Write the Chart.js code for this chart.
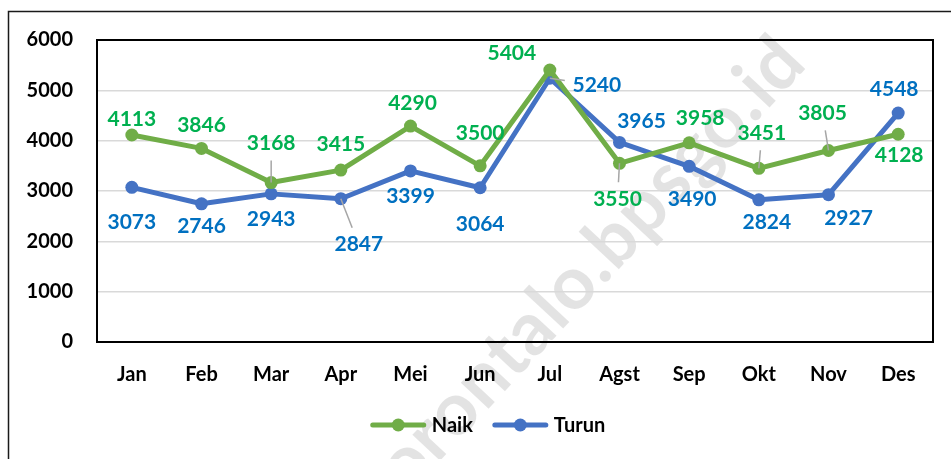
<!DOCTYPE html>
<html><head><meta charset="utf-8">
<script src="https://cdn.jsdelivr.net/npm/chart.js@4.4.1/dist/chart.umd.min.js"></script>
<style>html,body{margin:0;padding:0;background:#fff;} canvas{display:block;}</style>
</head><body>
<canvas id="c" width="951" height="459"></canvas>
<script>
const categories = ['Jan','Feb','Mar','Apr','Mei','Jun','Jul','Agst','Sep','Okt','Nov','Des'];
const naik = [4113,3846,3168,3415,4290,3500,5404,3550,3958,3451,3805,4128];
const turun = [3073,2746,2943,2847,3399,3064,5240,3965,3490,2824,2927,4548];
const yTicks = [0,1000,2000,3000,4000,5000,6000];
const seriesNames = ['Naik','Turun'];
const watermarkHead = 'gorontalo';
const watermarkTail = '.bpsgo.id';

// label placement (pixel offsets from each point) and leader-line flags
const naikLabelOffsets = [[0,-16],[0,-23],[0,-39],[0,-26],[2,-23],[0,-33],[-38,-17],[-2,36],[11,-25],[3,-35],[-6,-37],[1,21]];
const naikLeaders = [0,0,1,0,0,0,0,1,0,1,1,0];
const turunLabelOffsets = [[0,35],[0,22],[0,25],[18,46],[0,25],[0,36],[47,7],[22,-21],[3,33],[8,22],[20,24],[-4,-24]];
const turunLeaders = [0,0,0,1,0,0,1,0,0,0,0,0];

const FONT = 'Lato, "Open Sans", sans-serif';
const lineColors = ['#70AD47', '#4472C4'];
const labelColors = ['#00B050', '#0070C0'];

const watermarkPlugin = {
  id: 'watermark',
  beforeDraw(chart) {
    const ctx = chart.ctx;
    ctx.save();
    ctx.fillStyle = '#fff';
    ctx.fillRect(0, 0, chart.width, chart.height);
    ctx.translate(603, 286);
    ctx.rotate(-47 * Math.PI / 180);
    ctx.font = 'bold 74px ' + FONT;
    try { ctx.letterSpacing = '1px'; } catch (e) {}
    ctx.fillStyle = 'rgba(0,0,0,0.11)';
    ctx.textAlign = 'left';
    ctx.textBaseline = 'alphabetic';
    const hw = ctx.measureText(watermarkHead).width;
    ctx.fillText(watermarkHead, -hw, 0);
    ctx.fillText(watermarkTail, 0, 0);
    ctx.restore();
  }
};

const framePlugin = {
  id: 'frame',
  afterDraw(chart) {
    const ctx = chart.ctx, a = chart.chartArea;
    ctx.save();
    ctx.strokeStyle = '#1a1a1a';
    ctx.lineWidth = 1.5;
    ctx.strokeRect(8.5, 11.5, chart.width + 20, chart.height + 20);
    ctx.strokeStyle = '#000';
    ctx.lineWidth = 2;
    ctx.strokeRect(a.left, a.top, a.right - a.left, a.bottom - a.top);
    ctx.restore();
  }
};

const labelPlugin = {
  id: 'valueLabels',
  afterDatasetsDraw(chart) {
    const ctx = chart.ctx;
    const offsets = [naikLabelOffsets, turunLabelOffsets];
    const leaders = [naikLeaders, turunLeaders];
    ctx.save();
    ctx.font = 'bold 21px ' + FONT;
    ctx.textAlign = 'center';
    ctx.textBaseline = 'middle';
    chart.data.datasets.forEach((ds, di) => {
      const meta = chart.getDatasetMeta(di);
      meta.data.forEach((pt, i) => {
        const px = pt.x, py = pt.y;
        const lx = px + offsets[di][i][0], ly = py + offsets[di][i][1];
        if (leaders[di][i]) {
          const dx = lx - px, dy = ly - py;
          let ex, ey;
          if (Math.abs(dx) > Math.abs(dy)) { ex = lx - Math.sign(dx) * 32; ey = py + dy * (ex - px) / dx; }
          else { ey = ly - Math.sign(dy) * 17; ex = px + dx * (ey - py) / dy; }
          ctx.strokeStyle = '#A6A6A6';
          ctx.lineWidth = 1.5;
          ctx.beginPath(); ctx.moveTo(px, py); ctx.lineTo(ex, ey); ctx.stroke();
        }
        ctx.fillStyle = labelColors[di];
        ctx.fillText(String(ds.data[i]), lx, ly);
      });
    });
    ctx.restore();
  }
};

const legendPlugin = {
  id: 'customLegend',
  afterDraw(chart) {
    const ctx = chart.ctx;
    ctx.save();
    ctx.font = 'bold 20px ' + FONT;
    ctx.textBaseline = 'middle';
    ctx.textAlign = 'left';
    const y = 425, lineLen = 55, gapText = 6, gapItems = 20;
    const items = chart.data.datasets.map(ds => ({ label: ds.label, color: ds.borderColor, w: lineLen + gapText + ctx.measureText(ds.label).width }));
    const total = items.reduce((s, it) => s + it.w, 0) + gapItems * (items.length - 1);
    let x = 488 - total / 2;
    items.forEach(it => {
      ctx.strokeStyle = it.color; ctx.lineWidth = 5; ctx.lineCap = 'round';
      ctx.beginPath(); ctx.moveTo(x + 2, y); ctx.lineTo(x + lineLen - 2, y); ctx.stroke();
      ctx.fillStyle = it.color;
      ctx.beginPath(); ctx.arc(x + lineLen / 2, y, 6.5, 0, Math.PI * 2); ctx.fill();
      ctx.fillStyle = '#000';
      ctx.fillText(it.label, x + lineLen + gapText, y + 1);
      x += it.w + gapItems;
    });
    ctx.restore();
  }
};

new Chart(document.getElementById('c'), {
  type: 'line',
  data: {
    labels: categories,
    datasets: [
      { label: seriesNames[0], data: naik, borderColor: lineColors[0], backgroundColor: lineColors[0], pointBackgroundColor: lineColors[0], borderWidth: 5, pointRadius: 6.5, pointBorderWidth: 0, tension: 0, borderJoinStyle: 'round' },
      { label: seriesNames[1], data: turun, borderColor: lineColors[1], backgroundColor: lineColors[1], pointBackgroundColor: lineColors[1], borderWidth: 5, pointRadius: 6.5, pointBorderWidth: 0, tension: 0, borderJoinStyle: 'round' }
    ]
  },
  options: {
    responsive: false,
    animation: false,
    devicePixelRatio: 1,
    layout: { padding: { left: 0, right: 18, top: 40, bottom: 67 } },
    plugins: { legend: { display: false }, tooltip: { enabled: false } },
    scales: {
      x: {
        offset: true,
        grid: { display: false, drawTicks: false },
        border: { display: false },
        ticks: { color: '#000', font: { family: FONT, weight: 'bold', size: 20 }, padding: 21, maxRotation: 0 },
        afterFit(s) { s.height = 50; }
      },
      y: {
        min: 0, max: 6000,
        afterBuildTicks(s) { s.ticks = yTicks.map(v => ({ value: v })); },
        grid: { color: '#D9D9D9', lineWidth: 1.5, drawTicks: false },
        border: { display: false },
        ticks: { color: '#000', font: { family: FONT, weight: 'bold', size: 20 }, padding: 24, callback: v => String(v) },
        afterFit(s) { s.width = 97; }
      }
    }
  },
  plugins: [watermarkPlugin, labelPlugin, framePlugin, legendPlugin]
});
</script>
</body></html>
